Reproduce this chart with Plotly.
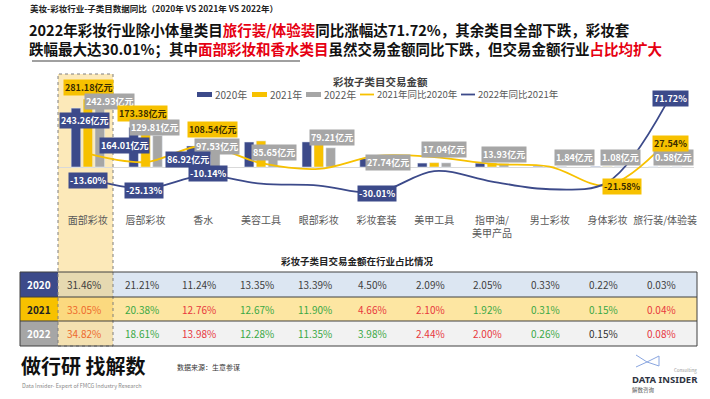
import plotly.graph_objects as go

W, H = 710, 399

categories = ["面部彩妆", "唇部彩妆", "香水", "美容工具", "眼部彩妆", "彩妆套装",
              "美甲工具", "指甲油/<br>美甲产品", "男士彩妆", "身体彩妆", "旅行装/体验装"]
sales_2020 = [243.26, 164.01, 86.92, 103.2, 103.5, 34.8, 16.2, 15.85, 2.55, 1.70, 0.27]
sales_2021 = [281.18, 173.38, 108.54, 107.8, 101.2, 39.6, 17.9, 16.3, 2.64, 1.28, 0.34]
sales_2022 = [242.93, 129.81, 97.53, 85.65, 79.21, 27.74, 17.04, 13.93, 1.84, 1.08, 0.58]
yoy_2021 = [15.59, 5.71, 24.87, 4.5, -2.2, 13.0, 11.5, 3.5, 0.5, -21.58, 27.54]
yoy_2022 = [-13.60, -25.13, -10.14, -19.5, -21.7, -30.01, -4.8, -17.0, -26.0, -18.0, 71.72]
share_2020 = [31.46, 21.21, 11.24, 13.35, 13.39, 4.50, 2.09, 2.05, 0.33, 0.22, 0.03]
share_2021 = [33.05, 20.38, 12.76, 12.67, 11.90, 4.66, 2.10, 1.92, 0.31, 0.15, 0.04]
share_2022 = [34.82, 18.61, 13.98, 12.28, 11.35, 3.98, 2.44, 2.00, 0.26, 0.15, 0.08]
row_years = ["2020", "2021", "2022"]

NAVY = "#3C4A8A"
YEL = "#F7C100"
GRAY = "#A6A6A6"
FONT = "Noto Sans CJK SC, Noto Sans, sans-serif"


def px(x):
    return x / W


def py(y):
    return 1 - y / H


def note(x, y, text, size, color, xanchor="center", family=FONT, **kw):
    d = dict(x=px(x), y=py(y), xref="paper", yref="paper", xanchor=xanchor, yanchor="middle",
             showarrow=False, text=text, font=dict(size=size, color=color, family=family))
    d.update(kw)
    return d


fig = go.Figure()
fig.add_trace(go.Bar(x=categories, y=sales_2020, name="2020年", marker_color=NAVY))
fig.add_trace(go.Bar(x=categories, y=sales_2021, name="2021年", marker_color=YEL))
fig.add_trace(go.Bar(x=categories, y=sales_2022, name="2022年", marker_color=GRAY))
fig.add_trace(go.Scatter(x=categories, y=yoy_2021, name="2021年同比2020年", yaxis="y2",
                         mode="lines", line=dict(color=YEL, width=1.8, shape="spline")))
fig.add_trace(go.Scatter(x=categories, y=yoy_2022, name="2022年同比2021年", yaxis="y2",
                         mode="lines", line=dict(color=NAVY, width=1.8, shape="spline")))

shapes = []
ann = []

# ---- table backgrounds ----
rows_y = [(272, 297), (297, 321), (321, 346)]
head_fill = [NAVY, YEL, GRAY]
row_fill = ["#DCE6F2", "#FDE6A2", "#F2F2F2"]
for (y0, y1), hf, rf in zip(rows_y, head_fill, row_fill):
    shapes.append(dict(type="rect", xref="paper", yref="paper", x0=px(20), x1=px(58),
                       y0=py(y1), y1=py(y0), fillcolor=hf, line=dict(width=0), layer="below"))
    shapes.append(dict(type="rect", xref="paper", yref="paper", x0=px(58), x1=px(697),
                       y0=py(y1), y1=py(y0), fillcolor=rf, line=dict(width=0), layer="below"))
# highlight column
shapes.append(dict(type="rect", xref="paper", yref="paper", x0=px(58), x1=px(113),
                   y0=py(346), y1=py(74), fillcolor="rgba(247,196,70,0.38)",
                   line=dict(color="#7f7f7f", width=1, dash="dot"), layer="below"))
# table lines
for yy in [272, 297, 321, 346]:
    shapes.append(dict(type="line", xref="paper", yref="paper", x0=px(20), x1=px(697),
                       y0=py(yy), y1=py(yy), line=dict(color="#404040", width=1), layer="below"))
for xx in [20, 697]:
    shapes.append(dict(type="line", xref="paper", yref="paper", x0=px(xx), x1=px(xx),
                       y0=py(272), y1=py(346), line=dict(color="#404040", width=1), layer="below"))
# title underline
shapes.append(dict(type="line", xref="paper", yref="paper", x0=px(32), x1=px(300),
                   y0=py(61), y1=py(61), line=dict(color="#808080", width=1.5)))

# ---- header texts ----
RED = "#E60012"
ann.append(note(28, 8, "<b>美妆-彩妆行业-子类目数据同比（2020年 VS 2021年 VS 2022年）</b>", 8.5, "#222",
                xanchor="left"))
ann.append(note(27, 39,
                "<b>2022年彩妆行业除小体量类目<span style='color:%s'>旅行装/体验装</span>同比涨幅达71.72%%，其余类目全部下跌，彩妆套<br>"
                "跌幅最大达30.01%%；其中<span style='color:%s'>面部彩妆和香水类目</span>虽然交易金额同比下跌，但交易金额行业<span style='color:%s'>占比均扩大</span></b>" % (RED, RED, RED),
                14.5, "#111", xanchor="left", align="left"))

# chart title
ann.append(note(381, 81.5, "<b>彩妆子类目交易金额</b>", 10.5, "#404040"))

# ---- manual legend ----
leg_rects = [(197, NAVY, "2020年"), (252, YEL, "2021年"), (306, GRAY, "2022年")]
for x0, c, t in leg_rects:
    shapes.append(dict(type="rect", xref="paper", yref="paper", x0=px(x0), x1=px(x0 + 15),
                       y0=py(97), y1=py(92), fillcolor=c, line=dict(width=0)))
    ann.append(note(x0 + 16, 94.5, t, 10, "#595959", xanchor="left"))
leg_lines = [(360, YEL, "2021年同比2020年"), (461, NAVY, "2022年同比2021年")]
for x0, c, t in leg_lines:
    shapes.append(dict(type="line", xref="paper", yref="paper", x0=px(x0), x1=px(x0 + 14),
                       y0=py(94.5), y1=py(94.5), line=dict(color=c, width=1.8)))
    ann.append(note(x0 + 15, 94.5, t, 9.5, "#595959", xanchor="left"))


# ---- value labels ----
def lab(series, i, dx, dy, bg, fc, yref="y", suffix="亿元"):
    v = series[i]
    ann.append(dict(x=categories[i], y=v, xref="x", yref=yref, xshift=dx, yshift=dy,
                    xanchor="center", yanchor="middle",
                    showarrow=False, text="<b>%.2f%s</b>" % (v, suffix), bgcolor=bg,
                    borderpad=1, font=dict(size=9, color=fc, family=FONT)))


lab(sales_2021, 0, 1, 11, YEL, "#3a2c00")
lab(sales_2022, 0, 22, 7, GRAY, "white")
lab(sales_2020, 0, -3, -12, NAVY, "white")
lab(sales_2021, 1, -3, 12, YEL, "#3a2c00")
lab(sales_2022, 1, 9, 8, GRAY, "white")
lab(sales_2020, 1, -21, -18, NAVY, "white")
lab(sales_2021, 2, 9, 11, YEL, "#3a2c00")
lab(sales_2022, 2, 14, -3, GRAY, "white")
lab(sales_2020, 2, -15, -14, NAVY, "white")
lab(sales_2022, 3, 13, -6, GRAY, "white")
lab(sales_2022, 4, 13, 10, GRAY, "white")
lab(sales_2022, 5, 11, -2, GRAY, "white")
lab(sales_2022, 6, 10, 13, GRAY, "white")
lab(sales_2022, 7, 12, 9, GRAY, "white")
lab(sales_2022, 8, 25, 9, GRAY, "white")
lab(sales_2022, 9, 13, 9, GRAY, "white")
lab(sales_2022, 10, 8, 9, GRAY, "white")

lab(yoy_2022, 0, 0, -2, NAVY, "white", "y2", "%")
lab(yoy_2022, 1, -2, -2, NAVY, "white", "y2", "%")
lab(yoy_2022, 2, 5, 2, NAVY, "white", "y2", "%")
lab(yoy_2022, 5, 0, -1, NAVY, "white", "y2", "%")
lab(yoy_2022, 10, 5, 7, NAVY, "white", "y2", "%")
lab(yoy_2021, 10, 5, 0, YEL, "#3a2c00", "y2", "%")
lab(yoy_2021, 9, 15, -1, YEL, "#3a2c00", "y2", "%")

# ---- table texts ----
ann.append(note(357, 261, "<b>彩妆子类目交易金额在行业占比情况</b>", 9.5, "#222"))
head_fc = ["white", "#222", "white"]
for r, (yr, (y0, y1)) in enumerate(zip(row_years, rows_y)):
    ann.append(note(39, (y0 + y1) / 2, "<b>%s</b>" % yr, 10, head_fc[r]))

shares = [share_2020, share_2021, share_2022]
GREEN = "#3BA845"
RED2 = "#E8383D"
for r in range(3):
    y0, y1 = rows_y[r]
    for i, v in enumerate(shares[r]):
        if r == 0:
            c = "#404040"
        else:
            prev = shares[r - 1][i]
            if v > prev:
                c = "#EE6A2C" if i == 0 else RED2
            elif v < prev:
                c = GREEN
            else:
                c = "#333"
        ann.append(dict(x=categories[i], y=py((y0 + y1) / 2), xref="x", yref="paper", xshift=-4,
                        xanchor="center", yanchor="middle",
                        showarrow=False, text="%.2f%%" % v, font=dict(size=10, color=c, family=FONT)))

# ---- footer ----
ann.append(note(19, 365, "<b>做行研 找解数</b>", 20, "#111", xanchor="left"))
ann.append(note(20, 386, "Data Insider- Expert of FMCG Industry Research", 5.5, "#888", xanchor="left"))
ann.append(note(175, 367, "数据来源：生意参谋", 7, "#333", xanchor="left"))
shapes.append(dict(type="path", xref="paper", yref="paper",
                   path="M %f %f L %f %f L %f %f L %f %f L %f %f L %f %f" % (
                       px(636), py(355), px(647), py(362), px(659), py(356),
                       px(659), py(366), px(647), py(362), px(636), py(367)),
                   line=dict(color="#8AA6E0", width=1)))
ann.append(note(699, 370, "Consulting", 4.5, "#999", xanchor="right"))
ann.append(note(630, 379, "<b>DATA INSIDER</b>", 9.5, "#2f3342", xanchor="left",
                family="Noto Sans, sans-serif"))
ann.append(note(630, 390, "解数咨询", 5.5, "#555", xanchor="left"))

# ---- axes ----
top, bot, zero = 95, 213, 167
s1, s2 = 0.242, 0.855
fig.update_layout(
    width=W, height=H, margin=dict(l=0, r=0, t=0, b=0, autoexpand=False),
    paper_bgcolor="white", plot_bgcolor="rgba(0,0,0,0)",
    showlegend=False, barmode="group", bargap=0.38, bargroupgap=0.2,
    font=dict(family=FONT),
    xaxis=dict(domain=[px(59), px(694)], showgrid=False, showline=False, ticks="",
               automargin=False, tickfont=dict(size=10, color="#595959", family=FONT)),
    yaxis=dict(domain=[py(bot), py(top)], range=[-(bot - zero) / s1, (zero - top) / s1],
               automargin=False,
               showgrid=False, showticklabels=False, zeroline=True, zerolinecolor="#D9D9D9",
               zerolinewidth=1),
    yaxis2=dict(overlaying="y", range=[-(bot - zero) / s2, (zero - top) / s2],
                showgrid=False, showticklabels=False, zeroline=False),
    shapes=shapes, annotations=ann,
)
fig.write_html("out.html", config={"displayModeBar": False},
               post_script="document.body.style.margin='0';document.body.style.overflow='hidden';")
